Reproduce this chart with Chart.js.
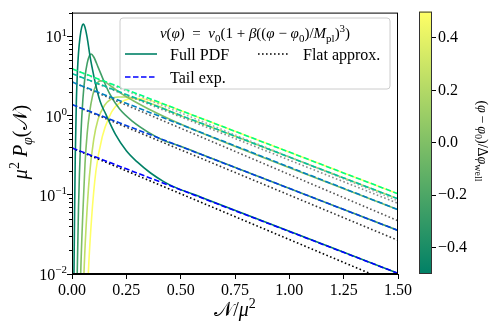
<!DOCTYPE html>
<html>
<head>
<meta charset="utf-8">
<script src="https://cdn.jsdelivr.net/npm/chart.js@4"></script>
<style>
  body { margin: 0; background: #fff; }
  #wrap { position: relative; width: 498px; height: 329px; }
  #wrap canvas { position: absolute; left: 0; top: 0; }
</style>
</head>
<body>
<div id="wrap">
  <canvas id="main" width="498" height="329"></canvas>
  <canvas id="cbar" width="498" height="329"></canvas>
</div>
<script>
const phiVals = [-0.5, -0.25, 0, 0.25, 0.5];
const xTicks = [0, 0.25, 0.5, 0.75, 1, 1.25, 1.5];
const yTicks = [0.01, 0.1, 1, 10];
const yTickExp = ['−2', '−1', '0', '1'];
const cbTicks = [-0.4, -0.2, 0, 0.2, 0.4];

// full PDF, one curve per phi value: [N/mu^2, mu^2 P]
const fullA = [[0.005,0.001],[0.009,0.01],[0.012,0.06],[0.015,0.3],[0.02,1.5],[0.025,3.6],[0.03,6.2],[0.037,9.8],[0.045,13.2],[0.052,14.3],[0.06,13],[0.07,9.6],[0.083,5.6],[0.1,3.2],[0.113,2.2],[0.13,1.5],[0.155,1.05],[0.2,0.58],[0.25,0.36],[0.3,0.26],[0.36,0.19],[0.42,0.148],[0.47,0.126],[0.6,0.092],[1.5,0.0102]];
const fullB = [[0.018,0.001],[0.024,0.01],[0.03,0.07],[0.04,0.5],[0.05,1.6],[0.06,3.1],[0.07,4.6],[0.08,5.7],[0.088,6.0],[0.1,5.5],[0.12,4.1],[0.15,2.6],[0.175,1.85],[0.22,1.2],[0.28,0.84],[0.35,0.62],[0.42,0.49],[0.5,0.41],[0.6,0.32],[1.5,0.0355]];
const fullC = [[0.032,0.001],[0.04,0.01],[0.05,0.06],[0.06,0.25],[0.07,0.6],[0.08,1.05],[0.095,1.8],[0.11,2.4],[0.13,2.75],[0.15,2.7],[0.18,2.35],[0.22,1.95],[0.28,1.55],[0.35,1.22],[0.45,0.9],[0.6,0.6],[1.5,0.065]];
const fullD = [[0.045,0.001],[0.055,0.01],[0.065,0.04],[0.08,0.17],[0.1,0.5],[0.12,0.9],[0.15,1.35],[0.18,1.62],[0.21,1.72],[0.25,1.72],[0.3,1.62],[0.4,1.3],[0.5,1.0],[0.6,0.79],[1.5,0.089]];
const fullE = [[0.062,0.001],[0.075,0.01],[0.09,0.05],[0.11,0.2],[0.14,0.55],[0.17,0.95],[0.2,1.3],[0.24,1.55],[0.28,1.65],[0.32,1.63],[0.4,1.45],[0.5,1.16],[0.6,0.91],[1.5,0.103]];
const fullPdf = [fullA, fullB, fullC, fullD, fullE];

// straight (exponential) approximations, value at N=0 and at N=1.5
const tailStart = [0.39, 1.38, 2.66, 3.39, 3.9];
const tailEnd = [0.0102, 0.0355, 0.065, 0.089, 0.103];
const flatStart = [0.39, 1.38, 2.66, 3.39, 3.9];
const flatEnd = [0.0072, 0.0266, 0.047, 0.078, 0.084];

const summer = ['rgb(0,128,102)', 'rgb(64,159,102)', 'rgb(128,191,102)', 'rgb(191,223,102)', 'rgb(255,255,102)'];
const winter = ['rgb(0,0,255)', 'rgb(0,64,223)', 'rgb(0,128,191)', 'rgb(0,191,159)', 'rgb(0,255,128)'];
const greys = ['#000000', '#333333', '#555555', '#888888', '#aaaaaa'];

const SERIF = '"Liberation Serif", "DejaVu Serif", serif';
Chart.defaults.color = '#000';
Chart.defaults.font.family = SERIF;

function fontFor(st, size) {
  const small = st.includes('b') || st.includes('p');
  const sz = small ? Math.round(size * 0.7) : size;
  return (st.includes('i') ? 'italic ' : '') + sz + 'px ' + SERIF;
}

// parts: [text, style]  style letters: i italic, b subscript, p superscript
function drawRich(ctx, parts, x, y, size, align) {
  ctx.save();
  ctx.textBaseline = 'alphabetic';
  ctx.textAlign = 'left';
  ctx.fillStyle = '#000';
  let w = 0;
  parts.forEach(([t, st]) => { ctx.font = fontFor(st, size); w += ctx.measureText(t).width; });
  let cx = align === 'center' ? x - w / 2 : (align === 'right' ? x - w : x);
  parts.forEach(([t, st]) => {
    ctx.font = fontFor(st, size);
    const dy = st.includes('b') ? size * 0.25 : (st.includes('p') ? -size * 0.42 : 0);
    ctx.fillText(t, cx, y + dy);
    cx += ctx.measureText(t).width;
  });
  ctx.restore();
}

const datasets = [];
phiVals.forEach((phi, i) => {
  datasets.push({
    label: 'Full PDF ' + phi,
    data: fullPdf[i].map(p => ({ x: p[0], y: p[1] })),
    borderColor: summer[i],
    borderWidth: 1.6,
    cubicInterpolationMode: 'monotone',
    pointRadius: 0,
    order: 3
  });
  datasets.push({
    label: 'Flat approx. ' + phi,
    data: [{ x: 0, y: flatStart[i] }, { x: 1.5, y: flatEnd[i] }],
    borderColor: greys[i],
    borderWidth: 1.6,
    borderDash: [1.6, 2.4],
    pointRadius: 0,
    order: 2
  });
  datasets.push({
    label: 'Tail exp. ' + phi,
    data: [{ x: 0, y: tailStart[i] }, { x: 1.5, y: tailEnd[i] }],
    borderColor: winter[i],
    borderWidth: 1.6,
    borderDash: [5.5, 2.5],
    pointRadius: 0,
    order: 1
  });
});

const decorPlugin = {
  id: 'decor',
  afterDraw(chart) {
    const { ctx, chartArea: a, scales } = chart;
    ctx.save();
    // frame
    ctx.strokeStyle = '#000';
    ctx.lineWidth = 1;
    ctx.strokeRect(a.left + 0.5, a.top + 0.5, a.right - a.left - 1, a.bottom - a.top - 1);
    // minor log ticks
    ctx.beginPath();
    for (let k = -2; k <= 1; k++) {
      for (let m = 2; m <= 9; m++) {
        const v = m * Math.pow(10, k);
        if (v > scales.y.max) continue;
        const py = Math.round(scales.y.getPixelForValue(v)) + 0.5;
        ctx.moveTo(a.left - 3, py);
        ctx.lineTo(a.left, py);
      }
    }
    ctx.stroke();
    ctx.restore();
    // y tick labels 10^k
    yTicks.forEach((v, i) => {
      const py = scales.y.getPixelForValue(v);
      drawRich(ctx, [['10', 'r'], [yTickExp[i], 'p']], 67, py + 6, 16, 'right');
    });
    // axis titles
    drawRich(ctx, [['𝒩', 'r'], ['/', 'r'], ['μ', 'i'], ['2', 'p']], 235, 316, 20, 'center');
    ctx.save();
    ctx.translate(27, 142);
    ctx.rotate(-Math.PI / 2);
    drawRich(ctx, [['μ', 'i'], ['2', 'p'], [' ', 'r'], ['P', 'i'], ['φ', 'bi'], ['(', 'r'], ['𝒩', 'r'], [')', 'r']], 0, 0, 20, 'center');
    ctx.restore();
    // legend
    ctx.save();
    const lx = 120, ly = 18, lw = 270, lh = 71, r = 3;
    ctx.beginPath();
    ctx.moveTo(lx + r, ly);
    ctx.arcTo(lx + lw, ly, lx + lw, ly + lh, r);
    ctx.arcTo(lx + lw, ly + lh, lx, ly + lh, r);
    ctx.arcTo(lx, ly + lh, lx, ly, r);
    ctx.arcTo(lx, ly, lx + lw, ly, r);
    ctx.closePath();
    ctx.fillStyle = 'rgba(255,255,255,0.8)';
    ctx.fill();
    ctx.strokeStyle = '#cccccc';
    ctx.lineWidth = 1;
    ctx.stroke();
    ctx.lineWidth = 1.6;
    const entry = (x0, y0, color, dash) => {
      ctx.beginPath();
      ctx.setLineDash(dash);
      ctx.strokeStyle = color;
      ctx.moveTo(x0, y0);
      ctx.lineTo(x0 + 32, y0);
      ctx.stroke();
    };
    entry(125, 54, summer[0], []);
    entry(125, 77, winter[0], [5.5, 2.5]);
    entry(258, 54, '#000', [1.6, 2.4]);
    ctx.restore();
    drawRich(ctx, [['v', 'i'], ['(', 'r'], ['φ', 'i'], [')  =  ', 'r'], ['v', 'i'], ['0', 'b'], ['(1 + ', 'r'], ['β', 'i'], ['((', 'r'], ['φ', 'i'], [' − ', 'r'], ['φ', 'i'], ['0', 'b'], [')/', 'r'], ['M', 'i'], ['pl', 'b'], [')', 'r'], ['3', 'p'], [')', 'r']], 255, 38, 15, 'center');
    drawRich(ctx, [['Full PDF', 'r']], 170, 60, 16, 'left');
    drawRich(ctx, [['Tail exp.', 'r']], 170, 83, 16, 'left');
    drawRich(ctx, [['Flat approx.', 'r']], 303, 60, 16, 'left');
  }
};

new Chart(document.getElementById('main'), {
  type: 'line',
  data: { datasets },
  options: {
    responsive: false,
    animation: false,
    events: [],
    layout: { padding: { left: 0, right: 100, top: 10, bottom: 0 } },
    plugins: { legend: { display: false }, tooltip: { enabled: false } },
    scales: {
      x: {
        type: 'linear',
        min: 0,
        max: 1.5,
        afterBuildTicks: s => { s.ticks = xTicks.map(v => ({ value: v })); },
        afterFit: s => { s.height = 55; },
        ticks: { callback: v => v.toFixed(2), font: { size: 16 }, padding: 2, maxRotation: 0 },
        grid: { drawOnChartArea: false, tickLength: 5, color: '#000' },
        border: { color: '#000', width: 1 }
      },
      y: {
        type: 'logarithmic',
        min: 0.01,
        max: 20,
        afterBuildTicks: s => { s.ticks = yTicks.map(v => ({ value: v })); },
        afterFit: s => { s.width = 72; },
        ticks: { callback: () => '', font: { size: 16 } },
        grid: { drawOnChartArea: false, tickLength: 5, color: '#000' },
        border: { color: '#000', width: 1 }
      }
    }
  },
  plugins: [decorPlugin]
});

const cbarPlugin = {
  id: 'cbarFill',
  beforeDraw(chart) {
    const { ctx, chartArea: a } = chart;
    const g = ctx.createLinearGradient(0, a.bottom, 0, a.top);
    g.addColorStop(0, summer[0]);
    g.addColorStop(1, summer[4]);
    ctx.save();
    ctx.fillStyle = g;
    ctx.fillRect(a.left, a.top, a.right - a.left, a.bottom - a.top);
    ctx.restore();
  },
  afterDraw(chart) {
    const { ctx, chartArea: a } = chart;
    ctx.save();
    ctx.strokeStyle = '#333';
    ctx.lineWidth = 1;
    ctx.strokeRect(a.left + 0.5, a.top + 0.5, a.right - a.left - 1, a.bottom - a.top - 1);
    ctx.translate(478, 141);
    ctx.rotate(Math.PI / 2);
    drawRich(ctx, [['(', 'r'], ['φ', 'i'], ['\u2009−\u2009', 'r'], ['φ', 'i'], ['0', 'b'], [')/Δ', 'r'], ['φ', 'i'], ['well', 'b']], 0, 0, 14, 'center');
    ctx.restore();
  }
};

new Chart(document.getElementById('cbar'), {
  type: 'scatter',
  data: { datasets: [] },
  options: {
    responsive: false,
    animation: false,
    events: [],
    layout: { padding: { left: 419, right: 0, top: 11, bottom: 55 } },
    plugins: { legend: { display: false }, tooltip: { enabled: false } },
    scales: {
      x: { display: false },
      y: {
        position: 'right',
        min: -0.5,
        max: 0.5,
        afterBuildTicks: s => { s.ticks = cbTicks.map(v => ({ value: v })); },
        afterFit: s => { s.width = 66; },
        ticks: { callback: v => (v < 0 ? '−' : '') + Math.abs(v).toFixed(1), font: { size: 16 }, padding: 2 },
        grid: { drawOnChartArea: false, tickLength: 4, color: '#000' },
        border: { display: false }
      }
    }
  },
  plugins: [cbarPlugin]
});
</script>
</body>
</html>
